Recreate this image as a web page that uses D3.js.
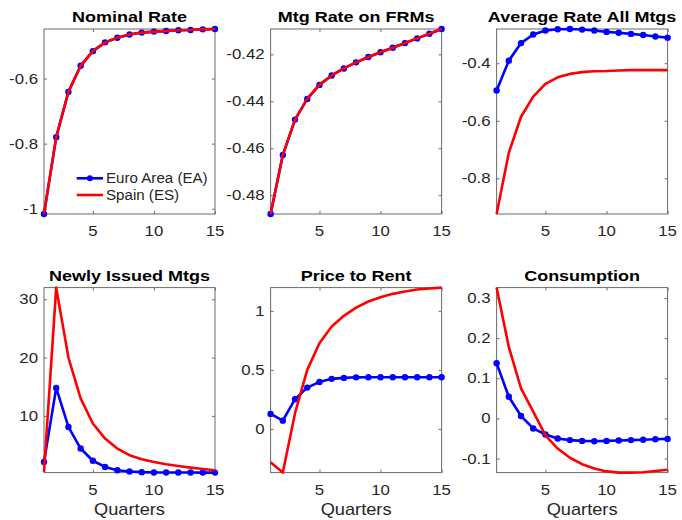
<!DOCTYPE html>
<html>
<head>
<meta charset="utf-8">
<script src="https://cdn.jsdelivr.net/npm/d3@7"></script>
<style>
  html, body { margin: 0; padding: 0; background: #fff; }
  svg { display: block; font-family: "Liberation Sans", Arial, Helvetica, sans-serif; }
</style>
</head>
<body>
<svg id="chart" width="682" height="520"></svg>
<script>
// Impulse responses over 15 quarters: Euro Area vs Spain
const quarters = d3.range(1, 16);
const xTicks = [5, 10, 15];

const titles = ["Nominal Rate", "Mtg Rate on FRMs", "Average Rate All Mtgs",
                "Newly Issued Mtgs", "Price to Rent", "Consumption"];

const nominalEA = [-1.016, -0.780, -0.641, -0.561, -0.516, -0.489, -0.475, -0.465, -0.459, -0.456, -0.454, -0.452, -0.451, -0.449, -0.448];
const nominalES = [-1.016, -0.780, -0.641, -0.561, -0.516, -0.489, -0.475, -0.465, -0.459, -0.456, -0.454, -0.452, -0.451, -0.449, -0.448];

const frmEA = [-0.488, -0.4629, -0.4478, -0.439, -0.433, -0.429, -0.426, -0.4234, -0.4211, -0.4191, -0.4172, -0.4152, -0.4132, -0.4112, -0.4092];
const frmES = [-0.488, -0.4629, -0.4478, -0.439, -0.433, -0.429, -0.426, -0.4234, -0.4211, -0.4191, -0.4172, -0.4152, -0.4132, -0.4112, -0.4092];

const avgRateEA = [-0.495, -0.391, -0.330, -0.300, -0.286, -0.282, -0.281, -0.283, -0.286, -0.291, -0.294, -0.298, -0.302, -0.307, -0.311];
const avgRateES = [-0.924, -0.711, -0.586, -0.516, -0.472, -0.449, -0.437, -0.431, -0.428, -0.427, -0.425, -0.424, -0.424, -0.424, -0.424];

const newMtgEA = [2.1, 14.8, 8.1, 4.4, 2.3, 1.24, 0.67, 0.45, 0.35, 0.3, 0.29, 0.28, 0.28, 0.27, 0.27];
const newMtgES = [0.4, 32.0, 20.0, 13.0, 8.7, 6.1, 4.4, 3.25, 2.56, 2.1, 1.7, 1.4, 1.13, 0.9, 0.67];

const priceRentEA = [0.127, 0.07, 0.252, 0.35, 0.398, 0.424, 0.432, 0.437, 0.438, 0.438, 0.438, 0.438, 0.438, 0.438, 0.438];
const priceRentES = [-0.282, -0.37, 0.133, 0.5, 0.726, 0.867, 0.958, 1.028, 1.079, 1.116, 1.144, 1.164, 1.181, 1.19, 1.197];

const consEA = [0.1375, 0.054, 0.006, -0.025, -0.040, -0.050, -0.054, -0.056, -0.057, -0.056, -0.055, -0.054, -0.053, -0.052, -0.051];
const consES = [0.326, 0.178, 0.075, 0.017, -0.042, -0.075, -0.098, -0.114, -0.125, -0.132, -0.135, -0.135, -0.134, -0.131, -0.128];

const yTicks = [
  [-1, -0.8, -0.6],
  [-0.48, -0.46, -0.44, -0.42],
  [-0.8, -0.6, -0.4],
  [10, 20, 30],
  [0, 0.5, 1],
  [-0.1, 0, 0.1, 0.2, 0.3]
];

const seriesEA = [nominalEA, frmEA, avgRateEA, newMtgEA, priceRentEA, consEA];
const seriesES = [nominalES, frmES, avgRateES, newMtgES, priceRentES, consES];

const legendLabels = ["Euro Area (EA)", "Spain (ES)"];
const xLabel = "Quarters";

// Layout
const colLeft = [44, 270.6, 496.6];
const rowTop = [29, 287.6];
const panelW = 171, panelH = 185;
const blue = "#0000ff", red = "#ff0000";
const axisColor = "#6b6b6b", textColor = "#262626";
const stretch = 1.2;

const svg = d3.select("#chart");

function stretchedText(g, x, y, str, opts) {
  const sx = opts.sx || stretch;
  return g.append("text")
    .attr("transform", `translate(${x},${y}) scale(${sx},1)`)
    .attr("text-anchor", opts.anchor || "middle")
    .attr("font-size", opts.size)
    .attr("font-weight", opts.weight || "normal")
    .attr("fill", opts.fill || textColor)
    .text(str);
}

titles.forEach((title, i) => {
  const col = i % 3, row = Math.floor(i / 3);
  const g = svg.append("g").attr("transform", `translate(${colLeft[col]},${rowTop[row]})`);

  const ea = seriesEA[i], es = seriesES[i];
  const x = d3.scaleLinear().domain([1, 15]).range([0, panelW]);
  const y = d3.scaleLinear().domain(d3.extent(ea.concat(es))).range([panelH, 0]);

  // frame
  g.append("rect").attr("width", panelW).attr("height", panelH)
    .attr("fill", "none").attr("stroke", axisColor).attr("stroke-width", 1);

  // inward ticks on all four sides
  const tickLen = 3;
  const axB = g.append("g").attr("transform", `translate(0,${panelH})`)
    .call(d3.axisBottom(x).tickValues(xTicks).tickSizeInner(-tickLen).tickSizeOuter(0).tickFormat(""));
  const axT = g.append("g")
    .call(d3.axisTop(x).tickValues(xTicks).tickSizeInner(-tickLen).tickSizeOuter(0).tickFormat(""));
  const axL = g.append("g")
    .call(d3.axisLeft(y).tickValues(yTicks[i]).tickSizeInner(-tickLen).tickSizeOuter(0).tickFormat(""));
  const axR = g.append("g").attr("transform", `translate(${panelW},0)`)
    .call(d3.axisRight(y).tickValues(yTicks[i]).tickSizeInner(-tickLen).tickSizeOuter(0).tickFormat(""));
  [axB, axT, axL, axR].forEach(a => {
    a.select(".domain").remove();
    a.selectAll("line").attr("stroke", axisColor);
  });

  // tick labels
  xTicks.forEach(t => stretchedText(g, x(t), panelH + 22, String(t), {size: 14}));
  yTicks[i].forEach(t => stretchedText(g, -6, y(t) + 5, String(t), {size: 14, anchor: "end"}));

  // title
  stretchedText(g, panelW / 2, -7, title, {size: 15, weight: "bold", fill: "#000"});

  if (row === 1) stretchedText(g, panelW / 2, panelH + 42, xLabel, {size: 16, sx: 1.14});

  const line = d3.line().x((d, k) => x(quarters[k])).y(d => y(d));
  const clip = "clip" + i;
  g.append("clipPath").attr("id", clip).append("rect")
    .attr("x", -4).attr("y", -4).attr("width", panelW + 8).attr("height", panelH + 8);
  const plot = g.append("g").attr("clip-path", `url(#${clip})`);

  plot.append("path").datum(ea).attr("d", line)
    .attr("fill", "none").attr("stroke", blue).attr("stroke-width", 2.6).attr("stroke-linejoin", "round");
  plot.selectAll("circle.ea").data(ea).join("circle").attr("class", "ea")
    .attr("cx", (d, k) => x(quarters[k])).attr("cy", d => y(d)).attr("r", 3.2).attr("fill", blue);
  plot.append("path").datum(es).attr("d", line)
    .attr("fill", "none").attr("stroke", red).attr("stroke-width", 2.6).attr("stroke-linejoin", "round");

  if (i === 0) {
    const lg = g.append("g");
    const lx0 = 76.7 - colLeft[0], lx1 = 103 - colLeft[0];
    const ly = [178.3 - rowTop[0], 195 - rowTop[0]];
    lg.append("line").attr("x1", lx0).attr("x2", lx1).attr("y1", ly[0]).attr("y2", ly[0])
      .attr("stroke", blue).attr("stroke-width", 2.6);
    lg.append("circle").attr("cx", (lx0 + lx1) / 2).attr("cy", ly[0]).attr("r", 3).attr("fill", blue);
    lg.append("line").attr("x1", lx0).attr("x2", lx1).attr("y1", ly[1]).attr("y2", ly[1])
      .attr("stroke", red).attr("stroke-width", 2.6);
    legendLabels.forEach((lab, k) =>
      stretchedText(lg, lx1 + 3, ly[k] + 5, lab, {size: 14, anchor: "start", sx: 1.08}));
  }
});
</script>
</body>
</html>
